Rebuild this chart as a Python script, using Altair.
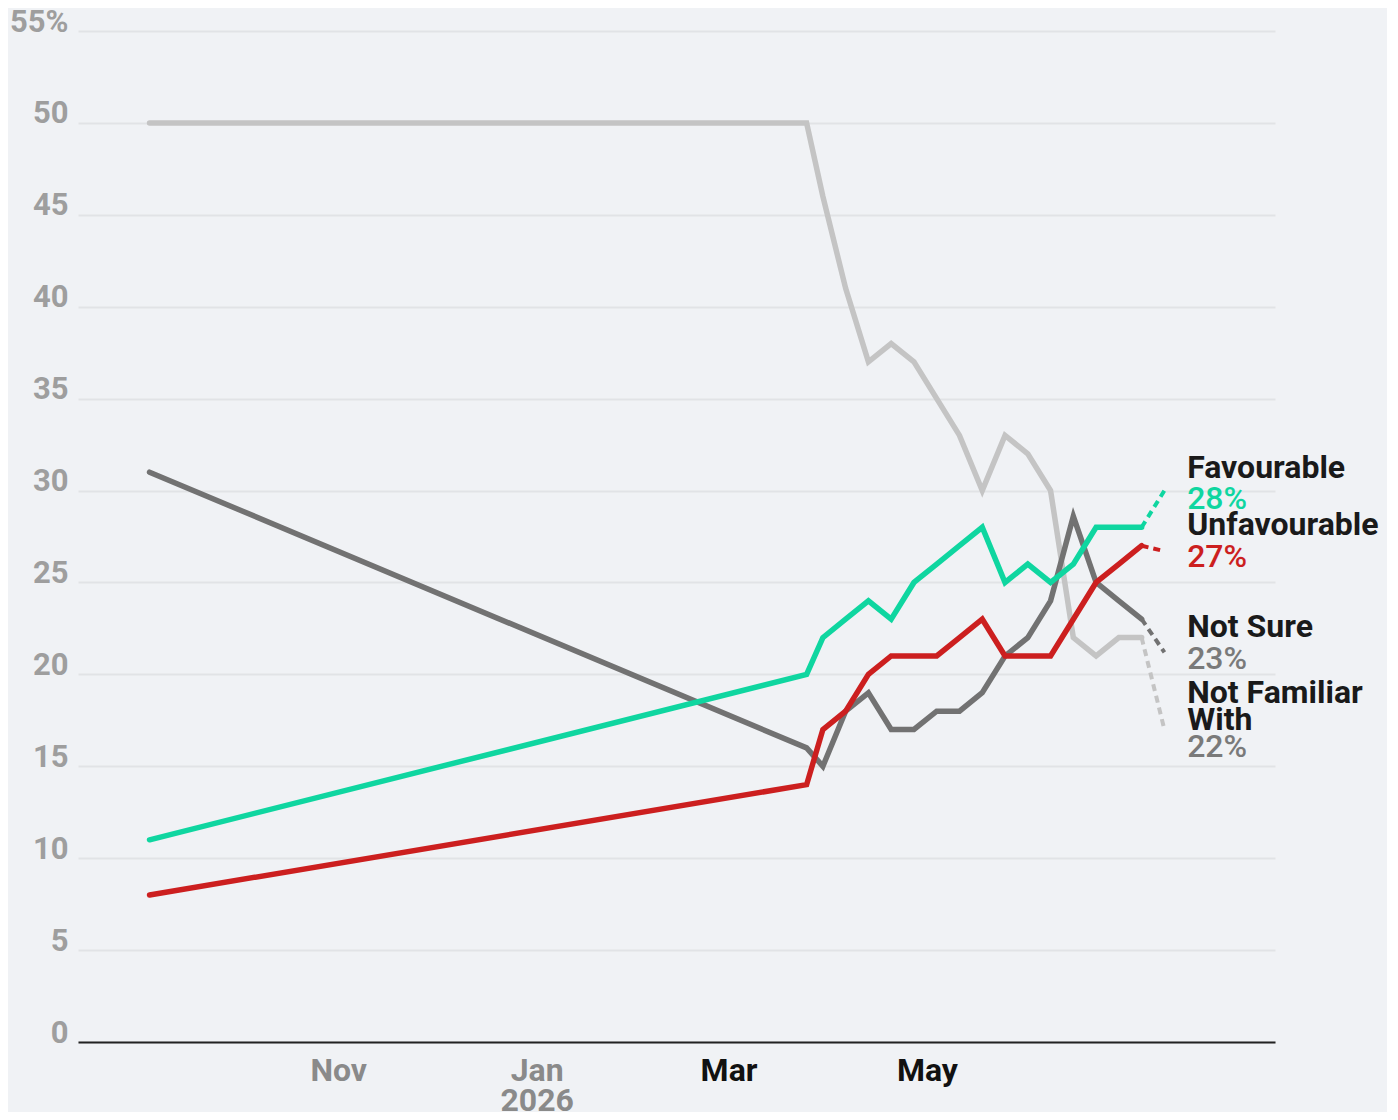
import altair as alt
import pandas as pd

# ---- data ----
dates = ["2025-09-04", "2026-03-25", "2026-03-30", "2026-04-06", "2026-04-13",
         "2026-04-20", "2026-04-27", "2026-05-04", "2026-05-11", "2026-05-18",
         "2026-05-25", "2026-06-01", "2026-06-08", "2026-06-15", "2026-06-22",
         "2026-06-29", "2026-07-06"]
favourable = [11, 20, 22, 23, 24, 23, 25, 26, 27, 28, 25, 26, 25, 26, 28, 28, 28]
unfavourable = [8, 14, 17, 18, 20, 21, 21, 21, 22, 23, 21, 21, 21, 23, 25, 26, 27]
not_sure = [31, 16, 15, 18, 19, 17, 17, 18, 18, 19, 21, 22, 24, 28.6, 25, 24, 23]
not_familiar = [50, 50, 46, 41, 37, 38, 37, 35, 33, 30, 33, 32, 30, 22, 21, 22, 22]

series_names = ["Not Familiar With", "Not Sure", "Unfavourable", "Favourable"]
series_values = [not_familiar, not_sure, unfavourable, favourable]
series_colors = ["#c4c4c4", "#727272", "#cc1f1f", "#0fd6a0"]

projection_date = "2026-07-13"
projection_values = [17, 21.2, 26.7, 30]

label_date = "2026-07-20"
label_texts = ["Favourable", "28%", "Unfavourable", "27%", "Not Sure", "23%",
               "Not Familiar", "With", "22%"]
label_y = [31.25, 29.55, 28.1, 26.4, 22.6, 20.85, 19.0, 17.5, 16.05]
label_colors = ["#1a1a1a", "#0fd6a0", "#1a1a1a", "#cc1f1f", "#1a1a1a", "#7a7a7a",
                "#1a1a1a", "#1a1a1a", "#7a7a7a"]
label_bold = [True, False, True, False, True, False, True, True, False]

x_ticks = [alt.DateTime(year=2025, month=11, date=1, utc=True),
           alt.DateTime(year=2026, month=1, date=1, utc=True),
           alt.DateTime(year=2026, month=3, date=1, utc=True),
           alt.DateTime(year=2026, month=5, date=1, utc=True)]
y_ticks = list(range(0, 56, 5))

# ---- tables ----
rows = []
for name, vals in zip(series_names, series_values):
    for d, v in zip(dates, vals):
        rows.append({"date": d, "series": name, "value": v})
df = pd.DataFrame(rows)

proj_rows = []
for name, vals, pv in zip(series_names, series_values, projection_values):
    proj_rows.append({"date": dates[-1], "series": name, "value": vals[-1]})
    proj_rows.append({"date": projection_date, "series": name, "value": pv})
proj = pd.DataFrame(proj_rows)

labels = pd.DataFrame({"date": [label_date] * len(label_texts), "text": label_texts,
                       "y": label_y, "color": label_colors, "bold": label_bold})

xscale = alt.Scale(type="utc", domain=[alt.DateTime(year=2025, month=8, date=13, utc=True),
                                       alt.DateTime(year=2026, month=8, date=16, utc=True)])
yscale = alt.Scale(domain=[0, 55], nice=False)
cscale = alt.Scale(domain=series_names, range=series_colors)

x_axis = alt.Axis(values=x_ticks, title=None, grid=False, ticks=False, tickSize=0,
                  domainColor="#222222", domainWidth=2,
                  labelExpr="utcmonth(datum.value)==0 ? [utcFormat(datum.value,'%b'), utcFormat(datum.value,'%Y')] : utcFormat(datum.value,'%b')",
                  labelColor=alt.ExprRef("utcmonth(datum.value)==2 || utcmonth(datum.value)==4 ? '#111111' : '#8a8a8a'"),
                  labelFont="Roboto", labelFontSize=32, labelFontWeight="bold",
                  labelPadding=13, labelLineHeight=30, labelFlush=False)
y_axis = alt.Axis(values=y_ticks, title=None, domain=False, ticks=False, tickSize=0,
                  gridColor="#e1e3e6", gridWidth=2,
                  labelExpr="datum.value==55 ? '55%' : datum.label",
                  labelFont="Roboto", labelFontSize=31, labelFontWeight="bold",
                  labelColor="#9e9e9e", labelBaseline="alphabetic", labelPadding=10)

base_x = alt.X("date:T", scale=xscale, axis=x_axis)

lines = alt.Chart(df).mark_line(strokeWidth=5.5, strokeCap="round").encode(
    x=base_x,
    y=alt.Y("value:Q", scale=yscale, axis=y_axis),
    color=alt.Color("series:N", scale=cscale, legend=None),
    order=alt.Order("date:T"),
)

dashes = alt.Chart(proj).mark_line(strokeWidth=4, strokeDash=[7, 5]).encode(
    x=alt.X("date:T", scale=xscale),
    y=alt.Y("value:Q", scale=yscale),
    color=alt.Color("series:N", scale=cscale, legend=None),
)


def text_layer(bold):
    return alt.Chart(labels).transform_filter(
        "datum.bold" if bold else "!datum.bold"
    ).mark_text(align="left", baseline="middle", font="Roboto", fontSize=32,
                fontWeight="bold" if bold else 500).encode(
        x=alt.X("date:T", scale=xscale),
        y=alt.Y("y:Q", scale=yscale),
        text="text:N",
        color=alt.Color("color:N", scale=None),
    )


chart = alt.layer(dashes, lines, text_layer(True), text_layer(False)).properties(
    width=1197, height=1011,
    autosize=alt.AutoSizeParams(type="none"),
    padding={"left": 70, "top": 23, "right": 112, "bottom": 70},
    background="#f0f2f5",
).configure_view(stroke=None)

chart.save("out.html", embed_options={"renderer": "svg", "actions": False})
